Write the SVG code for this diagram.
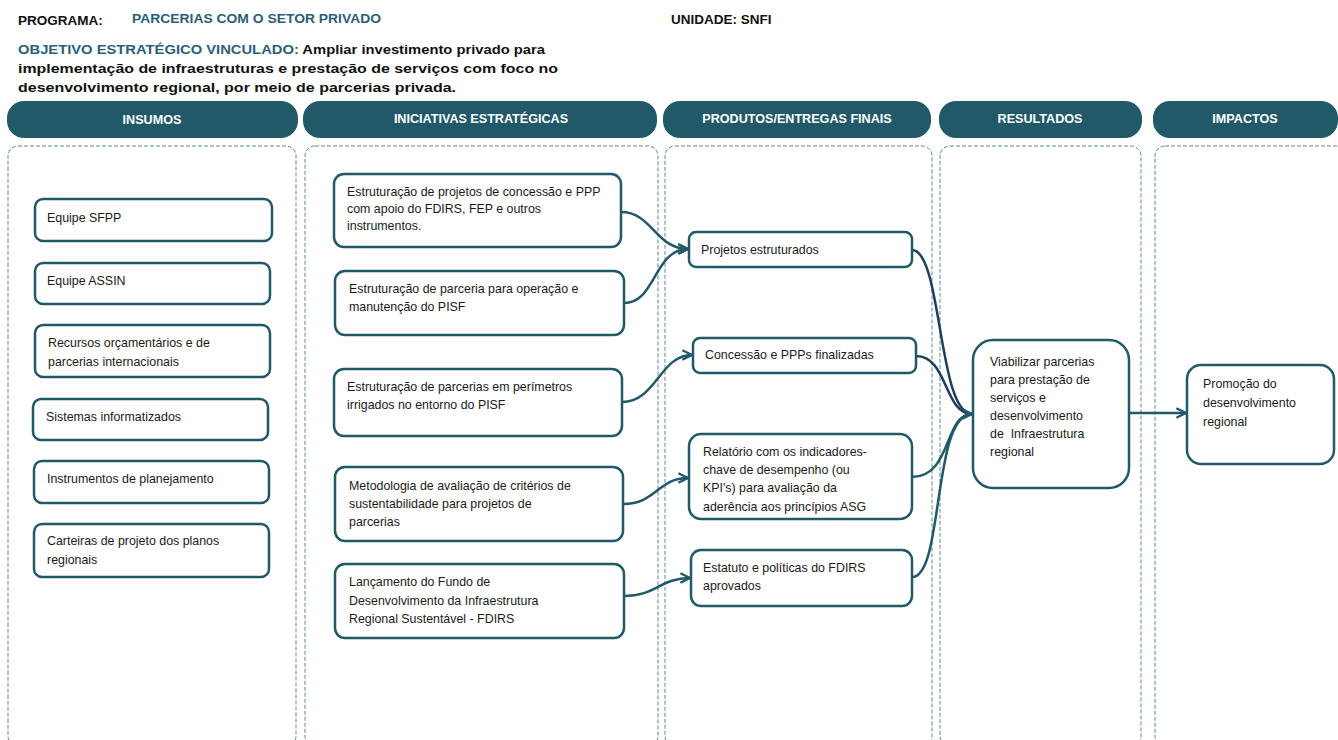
<svg xmlns="http://www.w3.org/2000/svg" width="1338" height="740" viewBox="0 0 1338 740">
<style>
.hdr{fill:#215968}
.hdrt{font-family:"Liberation Sans",Arial,sans-serif;font-weight:bold;font-size:12.6px;fill:#ffffff;text-anchor:middle}
.col{fill:none;stroke:#5f8593;stroke-width:1;stroke-dasharray:4 2}
.nd{fill:#ffffff;stroke:#215968;stroke-width:2.5}
.t{font-family:"Liberation Sans",Arial,sans-serif;font-size:12.4px;fill:#1a1a1a;white-space:pre}
.cn{fill:none;stroke:#215968;stroke-width:2.5}
.cnv{fill:none;stroke:#203f5e;stroke-width:2.5}
.top{font-family:"Liberation Sans",Arial,sans-serif;font-weight:bold;font-size:13.5px}
</style>
<defs>
<marker id="ar" viewBox="0 0 10 10" refX="9" refY="5" markerWidth="12" markerHeight="12" markerUnits="userSpaceOnUse" orient="auto">
<path d="M1,1 L9,5 L1,9" fill="none" stroke="#215968" stroke-width="2"/>
</marker>
</defs>
<rect width="1338" height="740" fill="#ffffff"/>

<g id="title">
<text class="top" x="18" y="25" fill="#111111">PROGRAMA:</text>
<text class="top" x="132" y="23" fill="#2b5e78" textLength="249" lengthAdjust="spacingAndGlyphs">PARCERIAS COM O SETOR PRIVADO</text>
<text class="top" x="671" y="24" fill="#111111">UNIDADE: SNFI</text>
<text class="top" x="18" y="54" font-size="14.5" textLength="527" lengthAdjust="spacingAndGlyphs"><tspan fill="#2b5e78">OBJETIVO ESTRATÉGICO VINCULADO:</tspan><tspan fill="#111111"> Ampliar investimento privado para</tspan></text>
<text class="top" x="18" y="73" font-size="14.5" fill="#111111" textLength="540" lengthAdjust="spacingAndGlyphs">implementação de infraestruturas e prestação de serviços com foco no</text>
<text class="top" x="18" y="92" font-size="14.5" fill="#111111" textLength="438" lengthAdjust="spacingAndGlyphs">desenvolvimento regional, por meio de parcerias privada.</text>
</g>

<g id="headers">
<rect class="hdr" x="7" y="101" width="291" height="37" rx="17"/>
<text class="hdrt" x="152" y="124">INSUMOS</text>
<rect class="hdr" x="303" y="101" width="354" height="37" rx="17"/>
<text class="hdrt" x="481" y="123">INICIATIVAS ESTRATÉGICAS</text>
<rect class="hdr" x="663" y="101" width="268" height="37" rx="17"/>
<text class="hdrt" x="797" y="123">PRODUTOS/ENTREGAS FINAIS</text>
<rect class="hdr" x="939" y="101" width="203" height="37" rx="17"/>
<text class="hdrt" x="1040" y="123">RESULTADOS</text>
<rect class="hdr" x="1153" y="101" width="185" height="37" rx="17"/>
<text class="hdrt" x="1245" y="123">IMPACTOS</text>
</g>

<g id="columns">
<rect class="col" x="8" y="146" width="288" height="600" rx="10"/>
<rect class="col" x="305" y="146" width="353" height="600" rx="10"/>
<rect class="col" x="665" y="146" width="267" height="600" rx="10"/>
<rect class="col" x="940" y="146" width="201" height="600" rx="10"/>
<rect class="col" x="1155" y="146" width="200" height="600" rx="10"/>
</g>

<g id="connectors">
<path class="cn" d="M621,212 C652,212 656,249 688,249" marker-end="url(#ar)"/>
<path class="cn" d="M624,303 C656,303 654,249 688,249" marker-end="url(#ar)"/>
<path class="cn" d="M622,402 C656,402 660,355 692,355" marker-end="url(#ar)"/>
<path class="cn" d="M623,504 C656,504 658,478 688,478" marker-end="url(#ar)"/>
<path class="cn" d="M624,596 C656,596 660,578 690,578" marker-end="url(#ar)"/>
<path class="cnv" d="M912,250 C942,250 938,414 972,414"/>
<path class="cnv" d="M916,356 C948,356 944,414 972,414"/>
<path class="cn" d="M912,477 C952,477 944,414 972,414"/>
<path class="cn" d="M912,577 C944,577 932,414 972,414" marker-end="url(#ar)"/>
<path class="cn" d="M1129,413 L1186,413" marker-end="url(#ar)"/>
</g>

<g id="n-sfpp"><rect class="nd" x="35" y="199" width="237" height="42" rx="8"/><text class="t" x="47" y="222">Equipe SFPP</text></g>
<g id="n-assin"><rect class="nd" x="35" y="263" width="235" height="41" rx="8"/><text class="t" x="47" y="285">Equipe ASSIN</text></g>
<g id="n-recursos"><rect class="nd" x="35" y="325" width="235" height="52" rx="8"/><text class="t" x="48" y="347">Recursos orçamentários e de</text><text class="t" x="48" y="366">parcerias internacionais</text></g>
<g id="n-sistemas"><rect class="nd" x="33" y="399" width="235" height="41" rx="8"/><text class="t" x="46" y="421">Sistemas informatizados</text></g>
<g id="n-instrumentos"><rect class="nd" x="34" y="461" width="235" height="42" rx="8"/><text class="t" x="47" y="483">Instrumentos de planejamento</text></g>
<g id="n-carteiras"><rect class="nd" x="34" y="524" width="235" height="53" rx="8"/><text class="t" x="47" y="545">Carteiras de projeto dos planos</text><text class="t" x="47" y="564">regionais</text></g>

<g id="n-i1"><rect class="nd" x="334" y="174" width="287" height="73" rx="10"/><text class="t" x="347" y="196">Estruturação de projetos de concessão e PPP</text><text class="t" x="347" y="213">com apoio do FDIRS, FEP e outros</text><text class="t" x="347" y="230">instrumentos.</text></g>
<g id="n-i2"><rect class="nd" x="335" y="271" width="289" height="64" rx="10"/><text class="t" x="349" y="293">Estruturação de parceria para operação e</text><text class="t" x="349" y="311">manutenção do PISF</text></g>
<g id="n-i3"><rect class="nd" x="334" y="369" width="288" height="67" rx="10"/><text class="t" x="347" y="391">Estruturação de parcerias em perímetros</text><text class="t" x="347" y="409">irrigados no entorno do PISF</text></g>
<g id="n-i4"><rect class="nd" x="335" y="467" width="288" height="74" rx="10"/><text class="t" x="349" y="490">Metodologia de avaliação de critérios de</text><text class="t" x="349" y="508">sustentabilidade para projetos de</text><text class="t" x="349" y="526">parcerias</text></g>
<g id="n-i5"><rect class="nd" x="335" y="564" width="289" height="74" rx="10"/><text class="t" x="349" y="586">Lançamento do Fundo de</text><text class="t" x="349" y="605">Desenvolvimento da Infraestrutura</text><text class="t" x="349" y="623">Regional Sustentável - FDIRS</text></g>

<g id="n-p1"><rect class="nd" x="689" y="232" width="223" height="35" rx="7"/><text class="t" x="701" y="254">Projetos estruturados</text></g>
<g id="n-p2"><rect class="nd" x="693" y="338" width="223" height="35" rx="7"/><text class="t" x="705" y="359">Concessão e PPPs finalizadas</text></g>
<g id="n-p3"><rect class="nd" x="689" y="434" width="223" height="85" rx="12"/><text class="t" x="703" y="456">Relatório com os indicadores-</text><text class="t" x="703" y="474">chave de desempenho (ou</text><text class="t" x="703" y="492">KPI's) para avaliação da</text><text class="t" x="703" y="511">aderência aos princípios ASG</text></g>
<g id="n-p4"><rect class="nd" x="691" y="550" width="221" height="56" rx="10"/><text class="t" x="703" y="572">Estatuto e políticas do FDIRS</text><text class="t" x="703" y="590">aprovados</text></g>

<g id="n-r1"><rect class="nd" x="973" y="340" width="156" height="148" rx="20"/><text class="t" x="990" y="366">Viabilizar parcerias</text><text class="t" x="990" y="384">para prestação de</text><text class="t" x="990" y="402">serviços e</text><text class="t" x="990" y="420">desenvolvimento</text><text class="t" x="990" y="438">de  Infraestrutura</text><text class="t" x="990" y="456">regional</text></g>

<g id="n-imp"><rect class="nd" x="1187" y="365" width="147" height="99" rx="14"/><text class="t" x="1203" y="388">Promoção do</text><text class="t" x="1203" y="407">desenvolvimento</text><text class="t" x="1203" y="426">regional</text></g>
</svg>
